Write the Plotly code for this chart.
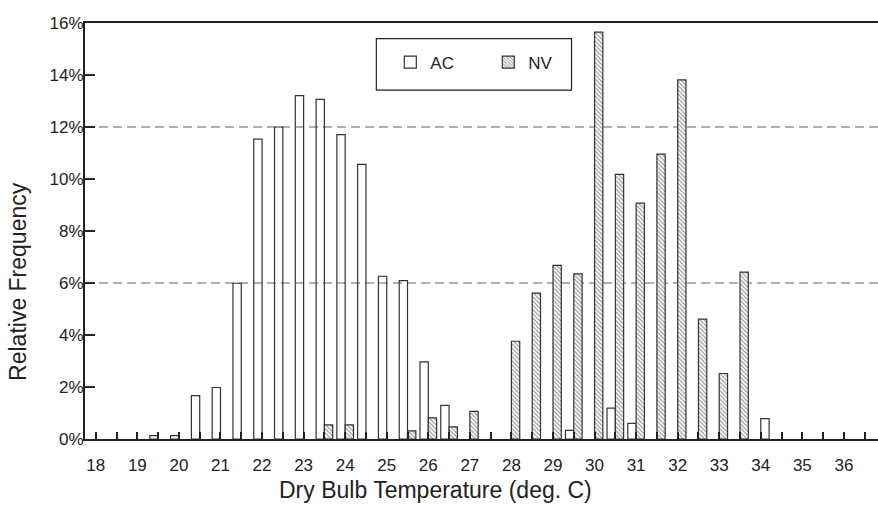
import plotly.graph_objects as go

# Temperature bins (deg. C) and relative frequencies (%)
ac_bins = [19.5, 20, 20.5, 21, 21.5, 22, 22.5, 23, 23.5, 24, 24.5, 25, 25.5, 26, 26.5,
           29.5, 30.5, 31, 34]
ac_vals = [0.13, 0.13, 1.67, 1.98, 5.99, 11.53, 12.0, 13.21, 13.06, 11.71, 10.56, 6.26,
           6.09, 2.97, 1.29, 0.33, 1.19, 0.6, 0.78]

nv_bins = [23.5, 24, 25.5, 26, 26.5, 27, 28, 28.5, 29, 29.5, 30, 30.5, 31, 31.5, 32,
           32.5, 33, 33.5]
nv_vals = [0.54, 0.54, 0.31, 0.81, 0.47, 1.06, 3.76, 5.61, 6.68, 6.35, 15.65, 10.18,
           9.07, 10.96, 13.81, 4.61, 2.52, 6.42]

x_ticks = list(range(18, 37))
y_ticks = [0, 0.02, 0.04, 0.06, 0.08, 0.10, 0.12, 0.14, 0.16]
grid_levels = [0.06, 0.12]

FONT = "Liberation Sans, Arial, sans-serif"
INK = "#222222"

BAR_W = 0.2
# AC bars sit left of the bin centre, NV bars right of it (the last AC bar in the
# source is drawn on the right side of its bin).
ac_offset = [-BAR_W if b < 34 else 0.0 for b in ac_bins]

fig = go.Figure()
fig.add_trace(go.Bar(
    name="AC", x=ac_bins, y=[v / 100 for v in ac_vals],
    width=BAR_W, offset=ac_offset,
    marker=dict(color="rgba(255,255,255,0)", line=dict(color="#333333", width=1.2)),
))
fig.add_trace(go.Bar(
    name="NV", x=nv_bins, y=[v / 100 for v in nv_vals],
    width=BAR_W, offset=0.0,
    marker=dict(color="white", line=dict(color="#333333", width=1.2),
                pattern=dict(shape="\\", fgcolor="#333333", bgcolor="white",
                             size=3, solidity=0.4)),
))

# invisible helper trace on the overlay axis so that its grid is drawn
fig.add_trace(go.Scatter(x=[18], y=[0], yaxis="y2", mode="markers",
                         marker=dict(opacity=0), showlegend=False, hoverinfo="skip"))

fig.update_layout(
    width=878, height=513,
    margin=dict(l=85, r=0, t=23, b=74),
    paper_bgcolor="white", plot_bgcolor="rgba(0,0,0,0)",
    barmode="overlay",
    font=dict(family=FONT, color=INK, size=17),
    showlegend=True,
    legend=dict(orientation="h", x=0.385, xanchor="left", y=0.948, yanchor="top",
                bgcolor="rgba(0,0,0,0)", borderwidth=0, font=dict(size=17),
                entrywidth=53, traceorder="normal"),
    xaxis=dict(range=[17.74, 36.82], tickvals=x_ticks, ticktext=[str(t) for t in x_ticks],
               ticks="inside", ticklen=7, tickwidth=1.5, tickcolor=INK,
               minor=dict(dtick=0.5, tick0=18, ticks="inside", ticklen=7,
                          tickwidth=1.5, tickcolor=INK, showgrid=False),
               showline=True, linewidth=2.2, linecolor=INK, mirror=True,
               showgrid=False, zeroline=False, ticklabelstandoff=9,
               tickfont=dict(size=17)),
    yaxis=dict(range=[0, 0.16], tickvals=y_ticks, tickformat=".0%",
               ticks="inside", ticklen=10, tickwidth=1.5, tickcolor=INK,
               showline=True, linewidth=2, linecolor=INK,
               showgrid=False, zeroline=False, ticklabelstandoff=-4,
               tickfont=dict(size=17)),
    yaxis2=dict(range=[0, 0.16], overlaying="y", side="left", tickvals=grid_levels,
                showticklabels=False, ticks="", showgrid=True, gridcolor="#b0b0b0",
                gridwidth=1.5, griddash="9px,5px", showline=False, zeroline=False),
    shapes=[dict(type="rect", xref="paper", yref="paper",
                 x0=0.3674, x1=0.6135, y0=0.8385, y1=0.9626,
                 line=dict(color=INK, width=1.2), fillcolor="rgba(0,0,0,0)")],
    annotations=[
        dict(text="Dry Bulb Temperature (deg. C)", xref="paper", yref="paper",
             x=0.4423, y=-0.122, xanchor="center", yanchor="middle",
             showarrow=False, font=dict(size=23)),
        dict(text="Relative Frequency", xref="paper", yref="paper",
             x=-0.0845, y=0.38, xanchor="center", yanchor="middle",
             textangle=-90, showarrow=False, font=dict(size=23)),
    ],
)

fig.write_html("out.html")
